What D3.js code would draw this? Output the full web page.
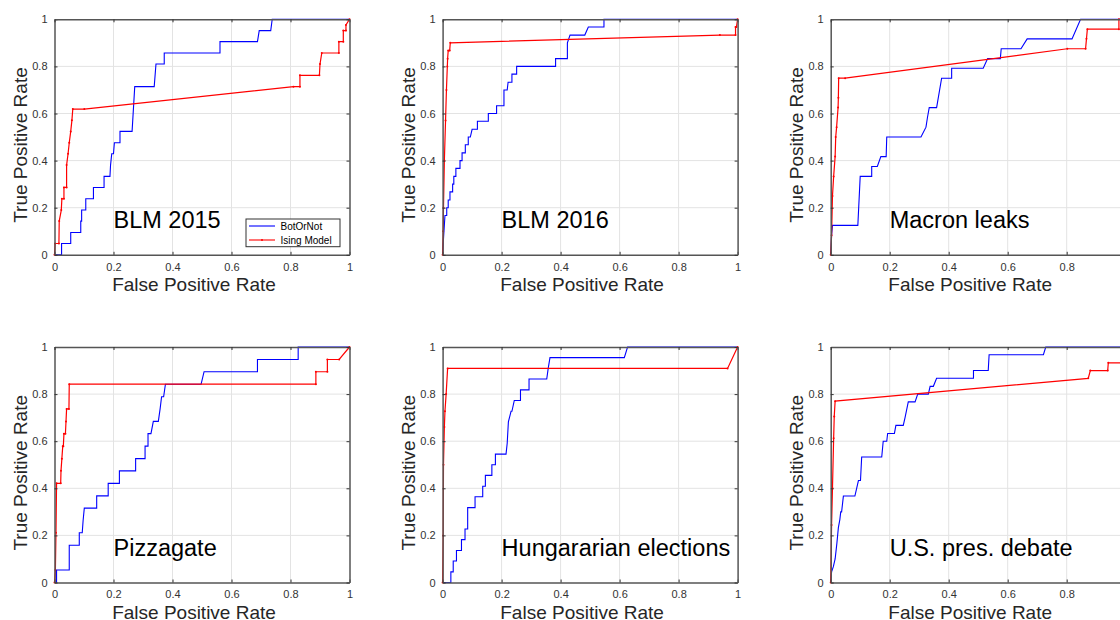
<!DOCTYPE html>
<html>
<head>
<meta charset="utf-8">
<script src="https://cdn.jsdelivr.net/npm/d3@7"></script>
<style>
  html, body { margin: 0; padding: 0; background: #fff; }
  svg { display: block; font-family: "Liberation Sans", Arial, Helvetica, sans-serif; }
</style>
</head>
<body>
<svg id="chart" width="1120" height="620"></svg>
<script>
// ROC curves, [false positive rate, true positive rate] pairs per dataset
const datasets = ["BLM 2015", "BLM 2016", "Macron leaks", "Pizzagate", "Hungararian elections", "U.S. pres. debate"];
const seriesNames = ["BotOrNot", "Ising Model"];
const tickValues = [0, 0.2, 0.4, 0.6, 0.8, 1];
const tickLabels = ["0", "0.2", "0.4", "0.6", "0.8", "1"];
const xLabel = "False Positive Rate";
const yLabel = "True Positive Rate";

const botBLM2015 = [[0,0],[0.024,0],[0.024,0.048],[0.055,0.048],[0.055,0.095],[0.089,0.095],[0.089,0.143],[0.092,0.143],[0.092,0.19],[0.106,0.19],[0.106,0.238],[0.132,0.238],[0.132,0.286],[0.168,0.286],[0.168,0.333],[0.188,0.333],[0.19,0.381],[0.194,0.429],[0.2,0.429],[0.203,0.476],[0.222,0.476],[0.222,0.524],[0.263,0.524],[0.272,0.714],[0.338,0.714],[0.344,0.81],[0.372,0.81],[0.372,0.857],[0.561,0.857],[0.561,0.905],[0.688,0.905],[0.694,0.952],[0.733,0.952],[0.738,1],[1,1]];
const isingBLM2015 = [[0,0],[0.002,0.048],[0.015,0.048],[0.016,0.143],[0.023,0.19],[0.025,0.238],[0.032,0.238],[0.032,0.286],[0.041,0.286],[0.041,0.381],[0.046,0.429],[0.05,0.476],[0.055,0.524],[0.059,0.571],[0.062,0.619],[0.101,0.619],[0.81,0.714],[0.832,0.714],[0.832,0.762],[0.898,0.762],[0.9,0.81],[0.906,0.857],[0.964,0.857],[0.964,0.905],[0.979,0.905],[0.979,0.952],[0.988,0.952],[0.988,0.976],[1,1]];

const botBLM2016 = [[0,0],[0.003,0.067],[0.008,0.167],[0.014,0.167],[0.014,0.2],[0.019,0.2],[0.019,0.233],[0.025,0.233],[0.025,0.267],[0.034,0.267],[0.034,0.3],[0.038,0.3],[0.038,0.333],[0.045,0.333],[0.045,0.367],[0.059,0.367],[0.059,0.4],[0.066,0.4],[0.066,0.433],[0.077,0.433],[0.077,0.467],[0.087,0.467],[0.087,0.5],[0.094,0.5],[0.1,0.533],[0.118,0.533],[0.118,0.567],[0.155,0.567],[0.155,0.6],[0.183,0.6],[0.183,0.633],[0.208,0.633],[0.208,0.7],[0.219,0.7],[0.222,0.733],[0.235,0.733],[0.235,0.767],[0.251,0.767],[0.251,0.8],[0.383,0.8],[0.383,0.833],[0.423,0.833],[0.423,0.9],[0.432,0.933],[0.482,0.933],[0.494,0.967],[0.547,0.967],[0.547,1],[1,1]];
const isingBLM2016 = [[0,0],[0.002,0.1],[0.003,0.2],[0.006,0.4],[0.01,0.57],[0.013,0.7],[0.016,0.8],[0.017,0.833],[0.019,0.867],[0.024,0.867],[0.026,0.9],[0.94,0.933],[0.993,0.933],[0.993,0.967],[0.996,0.967],[1,1]];

const botMacron = [[0,0],[0.003,0.083],[0.006,0.125],[0.092,0.125],[0.1,0.333],[0.139,0.333],[0.139,0.375],[0.158,0.375],[0.17,0.417],[0.188,0.417],[0.19,0.5],[0.306,0.5],[0.323,0.542],[0.328,0.583],[0.334,0.625],[0.359,0.625],[0.376,0.75],[0.41,0.75],[0.41,0.792],[0.517,0.792],[0.532,0.833],[0.575,0.833],[0.578,0.875],[0.645,0.875],[0.666,0.917],[0.818,0.917],[0.847,1],[1,1]];
const isingMacron = [[0,0],[0.003,0.083],[0.006,0.25],[0.01,0.333],[0.015,0.417],[0.017,0.5],[0.02,0.542],[0.025,0.625],[0.026,0.667],[0.027,0.75],[0.049,0.75],[0.802,0.875],[0.864,0.875],[0.867,0.917],[0.87,0.958],[0.977,0.958],[0.977,1],[1,1]];

const botPizzagate = [[0,0],[0.007,0],[0.007,0.053],[0.05,0.053],[0.05,0.158],[0.084,0.158],[0.084,0.211],[0.094,0.211],[0.097,0.263],[0.101,0.316],[0.143,0.316],[0.143,0.368],[0.182,0.368],[0.182,0.421],[0.22,0.421],[0.22,0.474],[0.275,0.474],[0.275,0.526],[0.307,0.526],[0.307,0.579],[0.317,0.579],[0.317,0.632],[0.327,0.632],[0.335,0.684],[0.352,0.684],[0.358,0.737],[0.363,0.789],[0.37,0.789],[0.376,0.842],[0.497,0.842],[0.507,0.895],[0.688,0.895],[0.688,0.947],[0.826,0.947],[0.826,1],[1,1]];
const isingPizzagate = [[0,0],[0.003,0.053],[0.005,0.211],[0.007,0.421],[0.021,0.421],[0.022,0.474],[0.025,0.526],[0.028,0.579],[0.03,0.579],[0.032,0.632],[0.037,0.632],[0.039,0.684],[0.041,0.737],[0.049,0.737],[0.05,0.842],[0.886,0.842],[0.886,0.895],[0.925,0.895],[0.925,0.947],[0.965,0.947],[1,1]];

const botHungary = [[0,0],[0.028,0],[0.028,0.045],[0.036,0.045],[0.036,0.091],[0.047,0.091],[0.047,0.136],[0.064,0.136],[0.064,0.182],[0.076,0.182],[0.076,0.227],[0.085,0.227],[0.085,0.318],[0.11,0.318],[0.11,0.364],[0.136,0.364],[0.136,0.409],[0.145,0.409],[0.145,0.455],[0.167,0.455],[0.167,0.5],[0.179,0.5],[0.179,0.545],[0.215,0.545],[0.219,0.591],[0.223,0.682],[0.232,0.727],[0.235,0.727],[0.243,0.773],[0.264,0.773],[0.264,0.818],[0.293,0.818],[0.293,0.864],[0.353,0.864],[0.358,0.909],[0.364,0.955],[0.616,0.955],[0.627,1],[1,1]];
const isingHungary = [[0,0],[0.002,0.2],[0.003,0.5],[0.006,0.66],[0.008,0.727],[0.012,0.8],[0.017,0.909],[0.966,0.909],[1,1]];

const botDebate = [[0,0],[0.003,0.045],[0.009,0.067],[0.015,0.1],[0.018,0.133],[0.021,0.167],[0.026,0.233],[0.031,0.267],[0.034,0.3],[0.037,0.3],[0.043,0.367],[0.082,0.367],[0.088,0.4],[0.094,0.433],[0.101,0.433],[0.105,0.533],[0.173,0.533],[0.178,0.6],[0.19,0.6],[0.193,0.633],[0.216,0.633],[0.221,0.667],[0.246,0.667],[0.252,0.7],[0.263,0.767],[0.286,0.767],[0.295,0.8],[0.331,0.8],[0.337,0.833],[0.348,0.833],[0.359,0.867],[0.484,0.867],[0.484,0.9],[0.534,0.9],[0.537,0.967],[0.721,0.967],[0.729,1],[1,1]];
const isingDebate = [[0,0],[0.003,0.244],[0.006,0.4],[0.01,0.613],[0.012,0.705],[0.015,0.77],[0.873,0.867],[0.88,0.9],[0.939,0.9],[0.941,0.933],[1,0.933],[1,1]];

const botOrNotCurves = [botBLM2015, botBLM2016, botMacron, botPizzagate, botHungary, botDebate];
const isingCurves = [isingBLM2015, isingBLM2016, isingMacron, isingPizzagate, isingHungary, isingDebate];

// Layout of the 2 x 3 grid of axes
const axW = 295, axH = 235.5;
const col0 = 54.5, colStep = 388.1;
const row0 = 19.3, rowStep = 327.7;
const blue = "#0000ff", red = "#ff0000";

const svg = d3.select("#chart");

datasets.forEach((name, i) => {
  const col = i % 3, row = Math.floor(i / 3);
  const left = col0 + col * colStep;
  const top = row0 + row * rowStep;

  const x = d3.scaleLinear().domain([0, 1]).range([0, axW]);
  const y = d3.scaleLinear().domain([0, 1]).range([axH, 0]);

  const g = svg.append("g").attr("transform", `translate(${left},${top})`);

  // grid
  g.append("g").selectAll("line.gx").data(tickValues.slice(1, -1)).join("line")
    .attr("x1", d => x(d)).attr("x2", d => x(d)).attr("y1", 0).attr("y2", axH)
    .attr("stroke", "#e3e3e3").attr("stroke-width", 1);
  g.append("g").selectAll("line.gy").data(tickValues.slice(1, -1)).join("line")
    .attr("y1", d => y(d)).attr("y2", d => y(d)).attr("x1", 0).attr("x2", axW)
    .attr("stroke", "#e3e3e3").attr("stroke-width", 1);

  // curves
  const line = d3.line().x(d => x(d[0])).y(d => y(d[1]));
  g.append("path").datum(botOrNotCurves[i]).attr("d", line)
    .attr("fill", "none").attr("stroke", blue).attr("stroke-width", 1.1);
  g.append("path").datum(isingCurves[i]).attr("d", line)
    .attr("fill", "none").attr("stroke", red).attr("stroke-width", 1.2);
  g.append("g").selectAll("circle").data(isingCurves[i]).join("circle")
    .attr("cx", d => x(d[0])).attr("cy", d => y(d[1])).attr("r", 1)
    .attr("fill", red);

  // axes with inward ticks on all four sides
  const fmt = d => tickLabels[tickValues.indexOf(d)];
  const xb = g.append("g").attr("transform", `translate(0,${axH})`)
    .call(d3.axisBottom(x).tickValues(tickValues).tickFormat(fmt).tickSizeInner(-3).tickSizeOuter(0).tickPadding(8));
  const yl = g.append("g")
    .call(d3.axisLeft(y).tickValues(tickValues).tickFormat(fmt).tickSizeInner(-3).tickSizeOuter(0).tickPadding(7));
  const xt = g.append("g")
    .call(d3.axisTop(x).tickValues(tickValues).tickFormat("").tickSizeInner(-3).tickSizeOuter(0));
  const yr = g.append("g").attr("transform", `translate(${axW},0)`)
    .call(d3.axisRight(y).tickValues(tickValues).tickFormat("").tickSizeInner(-3).tickSizeOuter(0));
  [xb, yl, xt, yr].forEach(a => {
    a.select(".domain").attr("stroke", "#555").attr("stroke-width", 1.5);
    a.selectAll(".tick line").attr("stroke", "#333").attr("stroke-width", 1);
    a.selectAll(".tick text").attr("fill", "#333").style("font-size", "11px")
      .style("font-family", "'Liberation Sans', Arial, sans-serif");
  });

  // axis titles
  g.append("text").attr("x", axW / 2 - 8).attr("y", axH + 36.7)
    .attr("text-anchor", "middle").attr("fill", "#262626").style("font-size", "19px")
    .text(xLabel);
  g.append("text").attr("transform", `translate(-27.8,${axH / 2 + 8}) rotate(-90)`)
    .attr("text-anchor", "middle").attr("fill", "#262626").style("font-size", "19px")
    .text(yLabel);

  // dataset name
  g.append("text").attr("x", x(0.2)).attr("y", y(0.15) + 8.6)
    .attr("fill", "#000").style("font-size", "23.5px")
    .text(name);

  // legend (first panel only)
  if (i === 0) {
    const lg = g.append("g").attr("transform", `translate(${246 - left},${219 - top})`);
    lg.append("rect").attr("width", 94).attr("height", 27.7)
      .attr("fill", "#fff").attr("stroke", "#333").attr("stroke-width", 1);
    [blue, red].forEach((c, k) => {
      const yy = 7 + k * 14;
      lg.append("line").attr("x1", 3).attr("x2", 29).attr("y1", yy).attr("y2", yy)
        .attr("stroke", c).attr("stroke-width", 1.1);
      if (k === 1) lg.append("circle").attr("cx", 16).attr("cy", yy).attr("r", 1).attr("fill", c);
      lg.append("text").attr("x", 34.5).attr("y", yy + 3.6)
        .attr("fill", "#000").style("font-size", "10px").text(seriesNames[k]);
    });
  }
});
</script>
</body>
</html>
